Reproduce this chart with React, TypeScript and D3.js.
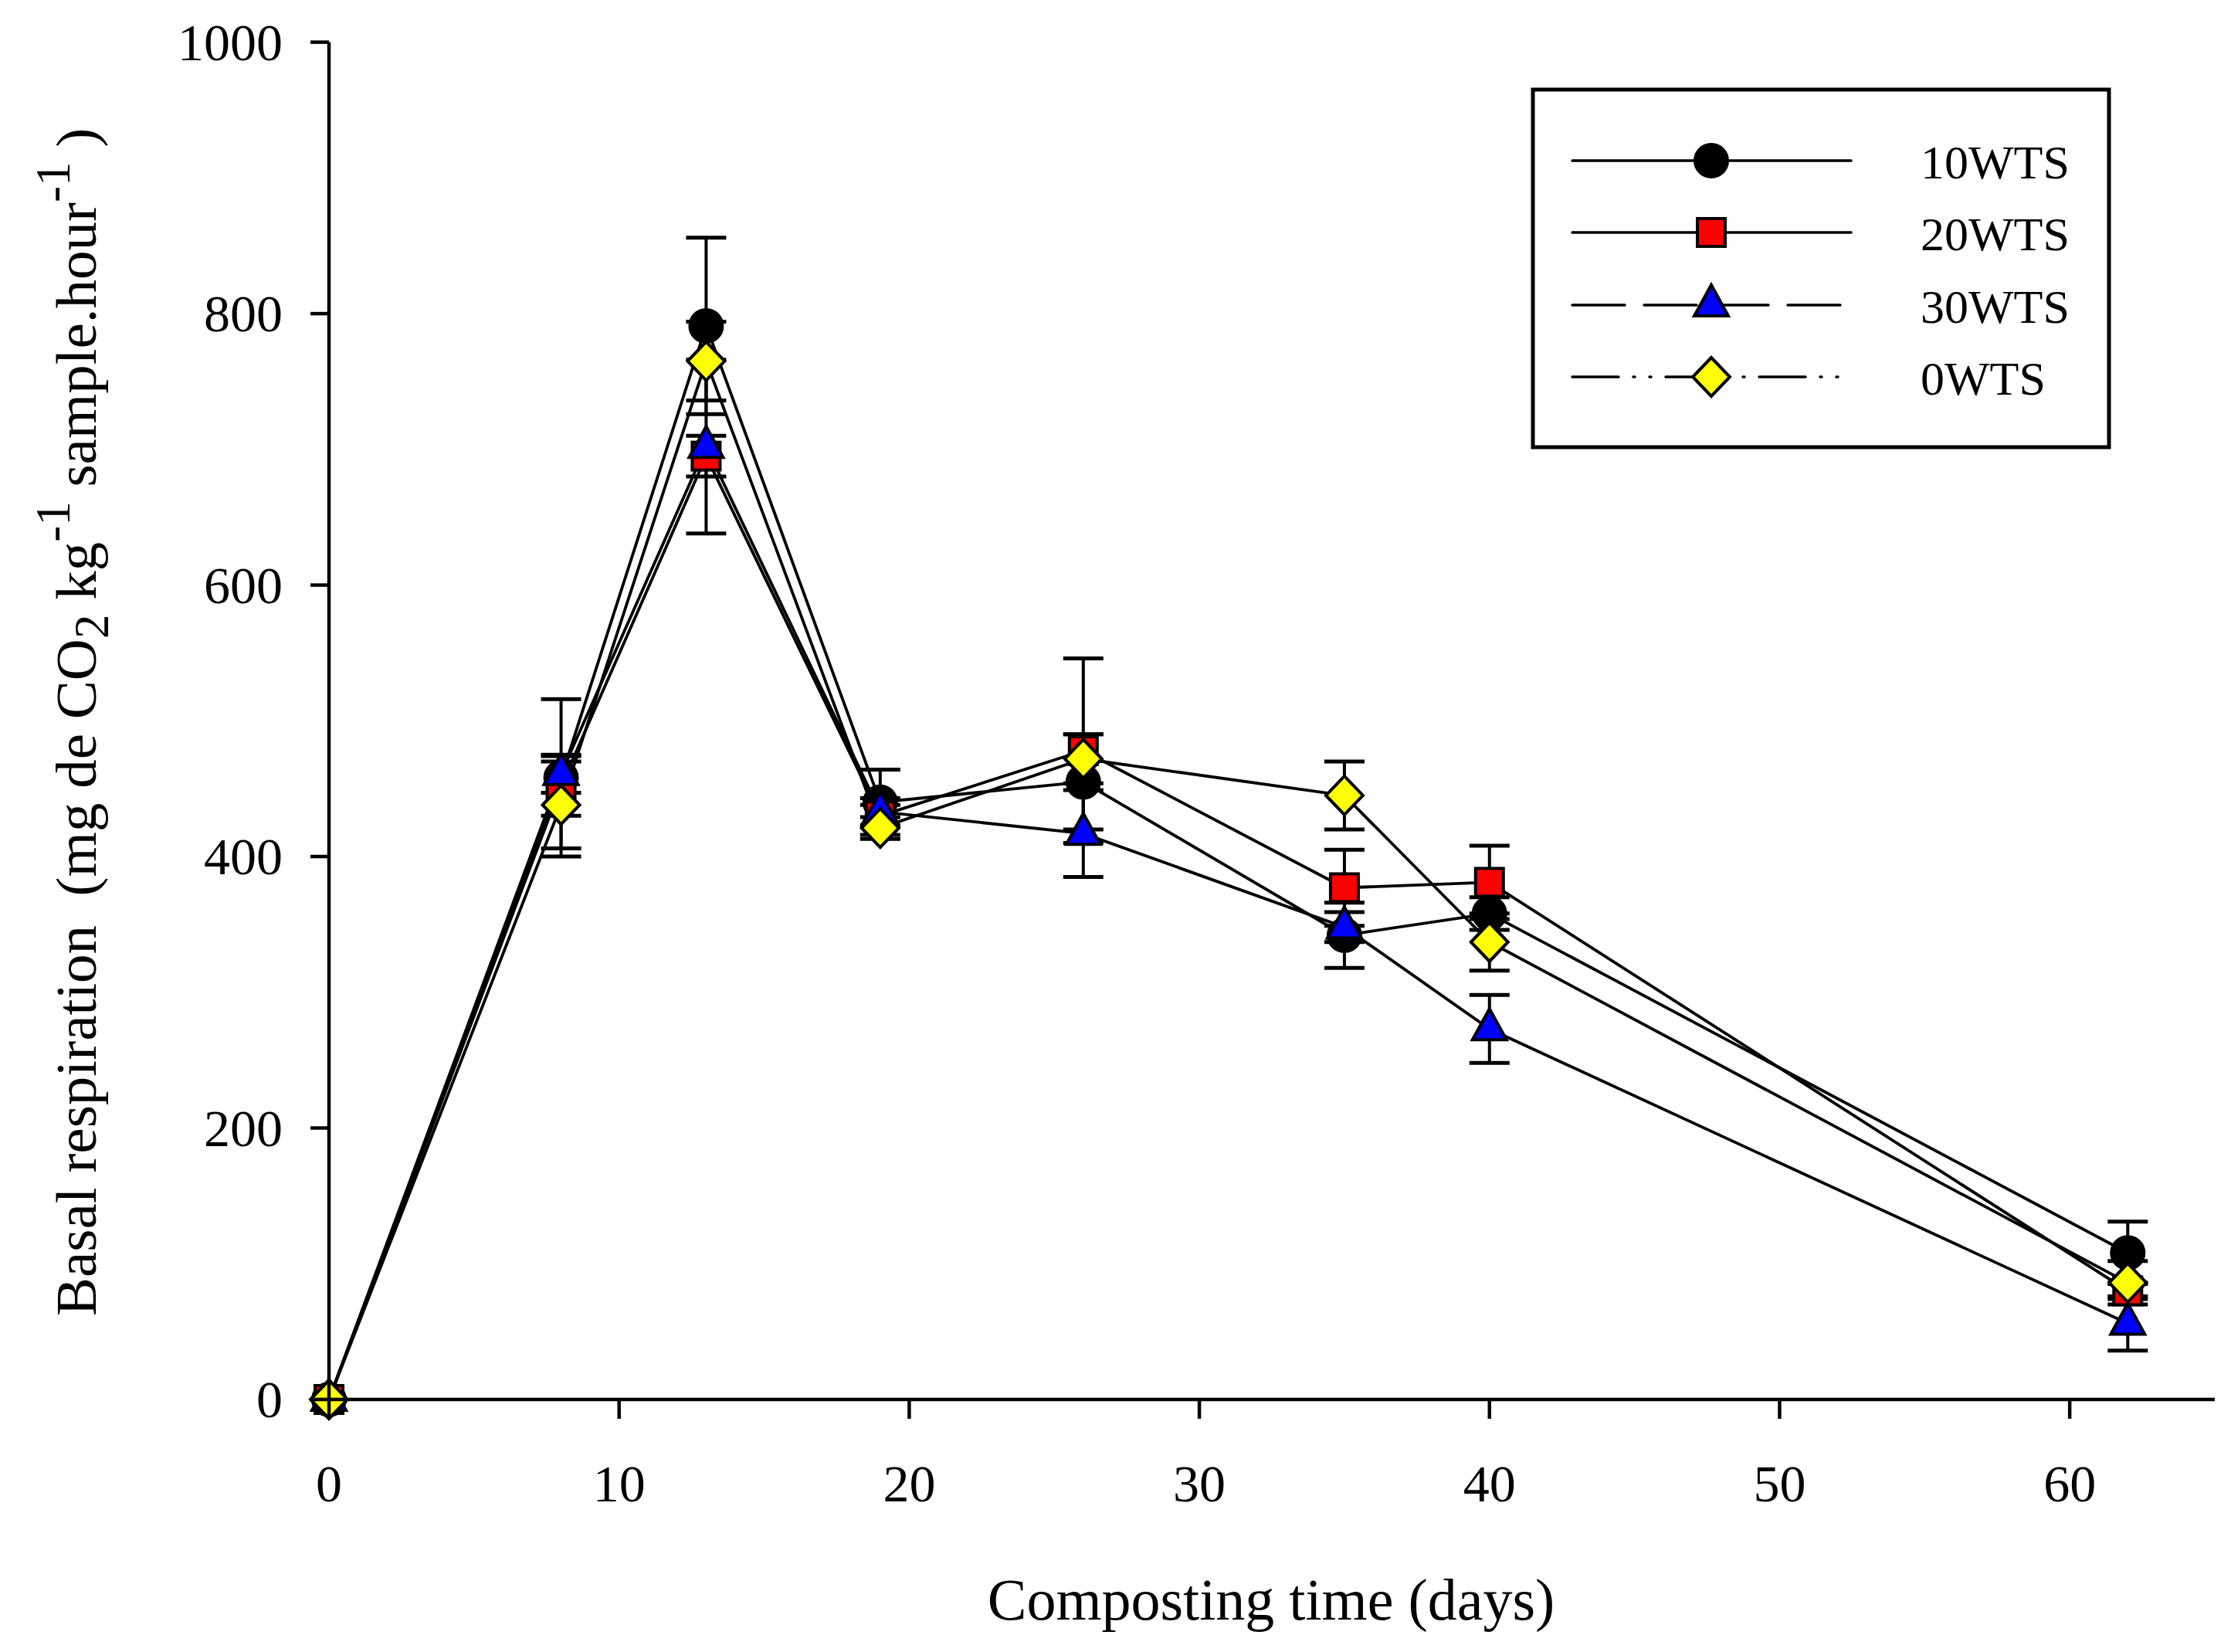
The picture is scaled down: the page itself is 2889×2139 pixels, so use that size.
import React from 'react';
import * as d3 from 'd3';

// ---- data ----
const days = [0, 8, 13, 19, 26, 35, 40, 62];
const seriesNames = ['10WTS', '20WTS', '30WTS', '0WTS'];
const wts10 = [0, 458, 791, 440, 455, 342, 358, 108];
const err10 = [0, 58, 65, 24, 35, 24, 12, 23];
const wts20 = [0, 452, 695, 430, 478, 377, 381, 80];
const err20 = [0, 22, 15, 8, 68, 28, 27, 6];
const wts30 = [0, 461, 702, 433, 417, 348, 273, 56];
const err30 = [0, 14, 64, 10, 32, 11, 25, 20];
const wts0 = [0, 438, 765, 421, 472, 445, 337, 86];
const err0 = [0, 32, 29, 8, 18, 25, 21, 16];
const xTicks = [0, 10, 20, 30, 40, 50, 60];
const yTicks = [0, 200, 400, 600, 800, 1000];

type Kind = 'circle' | 'square' | 'triangle' | 'diamond';
const seriesValues = [wts10, wts20, wts30, wts0];
const seriesErrors = [err10, err20, err30, err0];
const seriesKinds: Kind[] = ['circle', 'square', 'triangle', 'diamond'];
const seriesFill = ['#000000', '#ff0000', '#0000ff', '#ffff00'];
const legendDash = ['none', 'none', '68,25', '60,19,2,19,2,19'];

const W = 2889;
const H = 2139;
const FONT = '"Liberation Serif", "Times New Roman", Times, serif';

const x = d3.scaleLinear().domain([0, 65]).range([426, 2868]);
const y = d3.scaleLinear().domain([0, 1000]).range([1812, 54.6]);

function Marker({ kind, cx, cy, fill }: { kind: Kind; cx: number; cy: number; fill: string }) {
  const sw = 4;
  if (kind === 'circle') {
    return <circle cx={cx} cy={cy} r={21} fill={fill} stroke="#000" strokeWidth={sw} />;
  }
  if (kind === 'square') {
    return <rect x={cx - 18} y={cy - 18} width={36} height={36} fill={fill} stroke="#000" strokeWidth={sw} />;
  }
  if (kind === 'triangle') {
    const p = `M${cx},${cy - 26}L${cx + 22},${cy + 14}L${cx - 22},${cy + 14}Z`;
    return <path d={p} fill={fill} stroke="#000" strokeWidth={sw} strokeLinejoin="miter" />;
  }
  const p = `M${cx},${cy - 25}L${cx + 24},${cy}L${cx},${cy + 25}L${cx - 24},${cy}Z`;
  return <path d={p} fill={fill} stroke="#000" strokeWidth={sw} />;
}

export default function App() {
  const line = d3
    .line<number>()
    .x((_, i) => x(days[i]))
    .y((v) => y(v));

  const capHalf = 26;

  const legendRows = [208, 301, 395, 488];

  return (
    <svg
      width={W}
      height={H}
      viewBox={`0 0 ${W} ${H}`}
      style={{ position: 'absolute', left: 0, top: 0, background: '#fff' }}
      fontFamily={FONT}
    >
      <rect x={0} y={0} width={W} height={H} fill="#fff" />

      {/* lines */}
      {seriesValues.map((vals, s) => (
        <path key={`l${s}`} d={line(vals) || ''} fill="none" stroke="#000" strokeWidth={3.8} />
      ))}

      {/* error bars */}
      {seriesValues.map((vals, s) =>
        vals.map((v, i) => {
          const e = seriesErrors[s][i];
          if (!e) return null;
          const cx = x(days[i]);
          const y1 = y(v + e);
          const y2 = y(v - e);
          return (
            <g key={`e${s}-${i}`} stroke="#000" strokeWidth={4}>
              <line x1={cx} x2={cx} y1={y1} y2={y2} />
              <line x1={cx - capHalf} x2={cx + capHalf} y1={y1} y2={y1} strokeWidth={5} />
              <line x1={cx - capHalf} x2={cx + capHalf} y1={y2} y2={y2} strokeWidth={5} />
            </g>
          );
        })
      )}

      {/* markers */}
      {seriesValues.map((vals, s) =>
        vals.map((v, i) => (
          <Marker key={`m${s}-${i}`} kind={seriesKinds[s]} cx={x(days[i])} cy={y(v)} fill={seriesFill[s]} />
        ))
      )}

      {/* axes */}
      <line x1={x(0)} x2={x(0)} y1={y(1000)} y2={y(0)} stroke="#000" strokeWidth={4.5} />
      <line x1={x(0)} x2={x(65)} y1={y(0)} y2={y(0)} stroke="#000" strokeWidth={4.5} />
      {yTicks.map((t) => (
        <g key={`yt${t}`}>
          <line x1={x(0) - 24} x2={x(0)} y1={y(t)} y2={y(t)} stroke="#000" strokeWidth={4.5} />
          <text x={366} y={y(t)} dy="0.34em" textAnchor="end" fontSize={68}>
            {t}
          </text>
        </g>
      ))}
      {xTicks.map((t) => (
        <g key={`xt${t}`}>
          <line x1={x(t)} x2={x(t)} y1={y(0)} y2={y(0) + 25} stroke="#000" strokeWidth={4.5} />
          <text x={x(t)} y={1944} textAnchor="middle" fontSize={68}>
            {t}
          </text>
        </g>
      ))}

      {/* axis titles */}
      <text x={1646} y={2097} textAnchor="middle" fontSize={76}>
        Composting time (days)
      </text>
      <text transform="translate(124,1704) rotate(-90)" fontSize={75} style={{ whiteSpace: 'pre' }}>
        <tspan>Basal respiration  (mg de CO</tspan>
        <tspan fontSize={63} dy={16}>2</tspan>
        <tspan dy={-16}> kg</tspan>
        <tspan fontSize={63} dy={-34}>-1</tspan>
        <tspan dy={34}> sample.hour</tspan>
        <tspan fontSize={63} dy={-34}>-1</tspan>
        <tspan dy={34}> )</tspan>
      </text>

      {/* legend */}
      <rect x={1985} y={116} width={746} height={463} fill="#fff" stroke="#000" strokeWidth={5} />
      {seriesNames.map((name, s) => (
        <g key={`lg${s}`}>
          <line
            x1={2036}
            x2={2397}
            y1={legendRows[s]}
            y2={legendRows[s]}
            stroke="#000"
            strokeWidth={3.5}
            strokeDasharray={legendDash[s] === 'none' ? undefined : legendDash[s]}
            strokeLinecap="round"
          />
          <Marker kind={seriesKinds[s]} cx={2216} cy={legendRows[s]} fill={seriesFill[s]} />
          <text x={2487} y={legendRows[s] + 23} fontSize={62}>
            {name}
          </text>
        </g>
      ))}
    </svg>
  );
}
